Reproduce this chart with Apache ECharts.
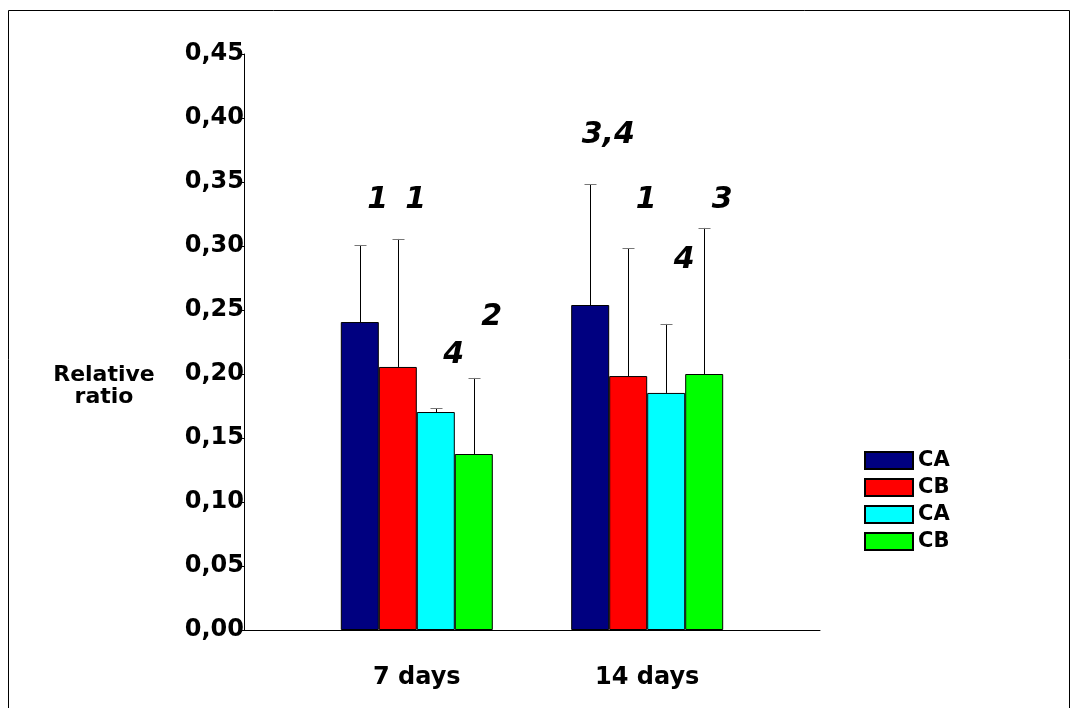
<!DOCTYPE html>
<html>
<head>
<meta charset="utf-8">
<script src="https://cdn.jsdelivr.net/npm/echarts@6/dist/echarts.min.js"></script>
<style>html,body{margin:0;padding:0;background:#fff}#c{width:1078px;height:708px}</style>
</head>
<body>
<div id="c"></div>
<script>
// Categories (blank slots give the reference's wide spacing)
const categories = ['', '7 days', '', '14 days', ''];
const groupIndex = [1, 3];
const seriesNames = ['CA', 'CB', 'CA ', 'CB '];
const colors = ['#000080', '#ff0000', '#00ffff', '#00ff00'];
// Means per group (7 days, 14 days)
const meanCA1 = [0.2406, 0.2539];
const meanCB1 = [0.2055, 0.1984];
const meanCA2 = [0.1703, 0.1852];
const meanCB2 = [0.1375, 0.2000];
// Upper end of error bars
const errCA1 = [0.3008, 0.3484];
const errCB1 = [0.3055, 0.2984];
const errCA2 = [0.1734, 0.2391];
const errCB2 = [0.1969, 0.3141];
// Significance annotations and their heights
const noteText = [['1', '1', '4', '2'], ['3,4', '1', '4', '3']];
const noteHeight = [[0.3359, 0.3359, 0.2148, 0.2445], [0.3867, 0.3359, 0.2891, 0.3359]];
const yTicks = [0, 0.05, 0.10, 0.15, 0.20, 0.25, 0.30, 0.35, 0.40, 0.45];

const means = [meanCA1, meanCB1, meanCA2, meanCB2];
const errs = [errCA1, errCB1, errCA2, errCB2];
const BW = 38;

function slotData(arr) {
  const d = categories.map(() => null);
  groupIndex.forEach((ci, g) => { d[ci] = arr[g]; });
  return d;
}

const series = [];
means.forEach((m, s) => {
  series.push({
    name: seriesNames[s], type: 'bar', data: slotData(m),
    barWidth: BW, barGap: '0%',
    itemStyle: { color: colors[s], borderColor: '#000', borderWidth: 1 },
    z: 2
  });
});

const errData = [];
errs.forEach((e, s) => groupIndex.forEach((ci, g) => errData.push([ci, means[s][g], e[g], s])));
series.push({
  type: 'custom', data: errData, z: 3, silent: true,
  renderItem: function (params, api) {
    const ci = api.value(0), s = api.value(3);
    const b = api.coord([ci, api.value(1)]);
    const t = api.coord([ci, api.value(2)]);
    const x = Math.round(b[0] + (s - 1.5) * BW) + 0.5;
    return { type: 'group', children: [
      { type: 'line', shape: { x1: x, y1: b[1], x2: x, y2: t[1] }, style: { stroke: '#000', lineWidth: 1 } },
      { type: 'line', shape: { x1: x - 6, y1: Math.round(t[1]) + 0.5, x2: x + 6, y2: Math.round(t[1]) + 0.5 }, style: { stroke: '#777', lineWidth: 1 } }
    ]};
  }
});

const noteData = [];
groupIndex.forEach((ci, g) => noteText[g].forEach((txt, s) => noteData.push([ci, noteHeight[g][s], s, txt])));
series.push({
  type: 'custom', data: noteData, z: 4, silent: true,
  renderItem: function (params, api) {
    const d = noteData[params.dataIndex];
    const p = api.coord([d[0], d[1]]);
    return { type: 'text', x: p[0] + (d[2] - 1.5) * BW + 18, y: p[1],
      style: { text: d[3], fontSize: 30, fontWeight: 'bold', fontStyle: 'italic', fontFamily: 'DejaVu Sans', fill: '#000', align: 'center', verticalAlign: 'middle' } };
  }
});

const chart = echarts.init(document.getElementById('c'), null, { renderer: 'canvas' });
chart.setOption({
  animation: false,
  backgroundColor: '#fff',
  graphic: [{ type: 'rect', shape: { x: 8.5, y: 10.5, width: 1061, height: 720 }, style: { fill: 'none', stroke: '#000', lineWidth: 1 }, silent: true }],
  grid: { left: 244, top: 54, width: 576, height: 576, outerBoundsMode: 'none', containLabel: false },
  legend: {
    orient: 'vertical', left: 859, top: 445, itemWidth: 48, itemHeight: 17, itemGap: 6,
    icon: 'rect', data: seriesNames,
    textStyle: { fontSize: 21, fontWeight: 'bold', fontFamily: 'DejaVu Sans', color: '#000' }
  },
  xAxis: {
    type: 'category', data: categories,
    axisLine: { lineStyle: { color: '#000' } }, axisTick: { show: false },
    axisLabel: { margin: 36, fontSize: 24, fontWeight: 'bold', fontFamily: 'DejaVu Sans', color: '#000', interval: 0 }
  },
  yAxis: {
    type: 'value', min: 0, max: 0.45, interval: 0.05,
    name: 'Relative\nratio', nameLocation: 'middle', nameRotate: 0, nameGap: 140,
    nameTextStyle: { fontSize: 22, fontWeight: 'bold', fontFamily: 'DejaVu Sans', color: '#000', align: 'center', verticalAlign: 'top', padding: [22, 0, 0, 0] },
    axisLine: { show: true, lineStyle: { color: '#000' } },
    axisTick: { show: true, length: 4, lineStyle: { color: '#000' } },
    splitLine: { show: false },
    axisLabel: { margin: 0, fontSize: 24, fontWeight: 'bold', fontFamily: 'DejaVu Sans', color: '#000',
      formatter: v => { const t = yTicks.find(k => Math.abs(k - v) < 1e-9); return (t === undefined ? v : t).toFixed(2).replace('.', ','); } }
  },
  series: series
});
</script>
</body>
</html>
